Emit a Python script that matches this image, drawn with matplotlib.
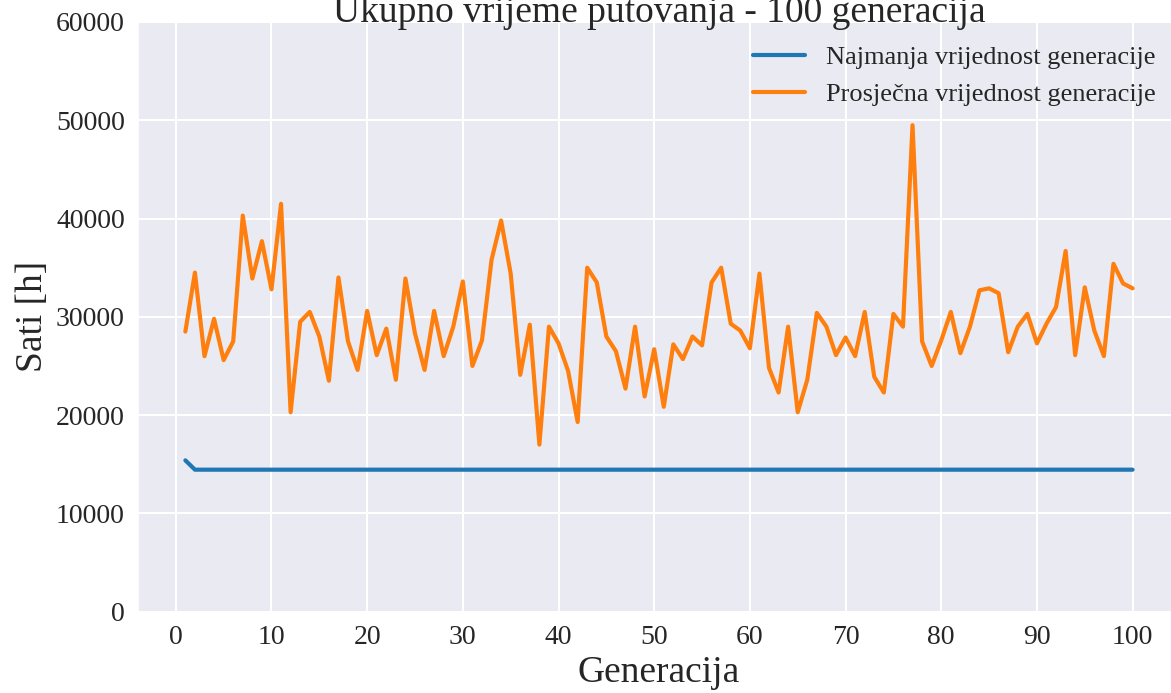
"""
Ukupno vrijeme putovanja po generacijama (najmanja i prosjecna vrijednost).
"""

import numpy as np
import matplotlib
matplotlib.use("Agg")
import matplotlib.pyplot as plt
import seaborn as sns

# Generacije 1..100
generacije = list(range(1, 101))

# Najmanja vrijednost generacije [h]
najmanja = [15400] + [14450] * 99

# Prosjecna vrijednost generacije [h]
prosjecna = [
    28500, 34500, 26000, 29800, 25600, 27500, 40300, 33900, 37700, 32800,
    41500, 20300, 29500, 30500, 28000, 23500, 34000, 27500, 24600, 30600,
    26100, 28800, 23600, 33900, 28300, 24600, 30600, 26000, 29000, 33600,
    25000, 27600, 35800, 39800, 34400, 24100, 29200, 17000, 29000, 27300,
    24500, 19300, 35000, 33500, 28000, 26500, 22700, 29000, 21900, 26700,
    20850, 27200, 25700, 28000, 27100, 33500, 35000, 29300, 28600, 26800,
    34400, 24800, 22300, 29000, 20300, 23600, 30400, 29000, 26100, 27900,
    26000, 30500, 23900, 22300, 30300, 29000, 49500, 27500, 25000, 27600,
    30500, 26300, 29000, 32700, 32900, 32400, 26400, 29000, 30300, 27300,
    29300, 31000, 36700, 26100, 33000, 28600, 26000, 35400, 33400, 32900,
]

x_ticks = list(range(0, 101, 10))
y_ticks = list(range(0, 60001, 10000))

sns.set_theme(style="darkgrid")
plt.rcParams['font.family'] = ['Liberation Serif', 'DejaVu Serif']
plt.rcParams['grid.linewidth'] = 1.5

fig = plt.figure(figsize=(11.71, 6.93), dpi=100)
ax = fig.add_axes([0.11785, 0.1173, 0.8898, 0.8510])

ax.plot(generacije, najmanja, color='#1f77b4', linewidth=3,
        label='Najmanja vrijednost generacije')
ax.plot(generacije, prosjecna, color='#ff7f0e', linewidth=3,
        label='Prosječna vrijednost generacije')

ax.set_xlim(-3.95, 104.95)
ax.set_ylim(0, 60000)
ax.set_xticks(x_ticks)
ax.set_yticks(y_ticks)
ax.tick_params(axis='both', labelsize=20, colors='.15')

ax.set_xlabel('Generacija', fontsize=27, color='.15')
ax.set_ylabel('Sati [h]', fontsize=27, color='.15')
ax.set_title('Ukupno vrijeme putovanja - 100 generacija', fontsize=27,
             color='.15', pad=0)

ax.legend(loc='upper right', fontsize=19, frameon=False)

fig.savefig('out.png', dpi=100)
